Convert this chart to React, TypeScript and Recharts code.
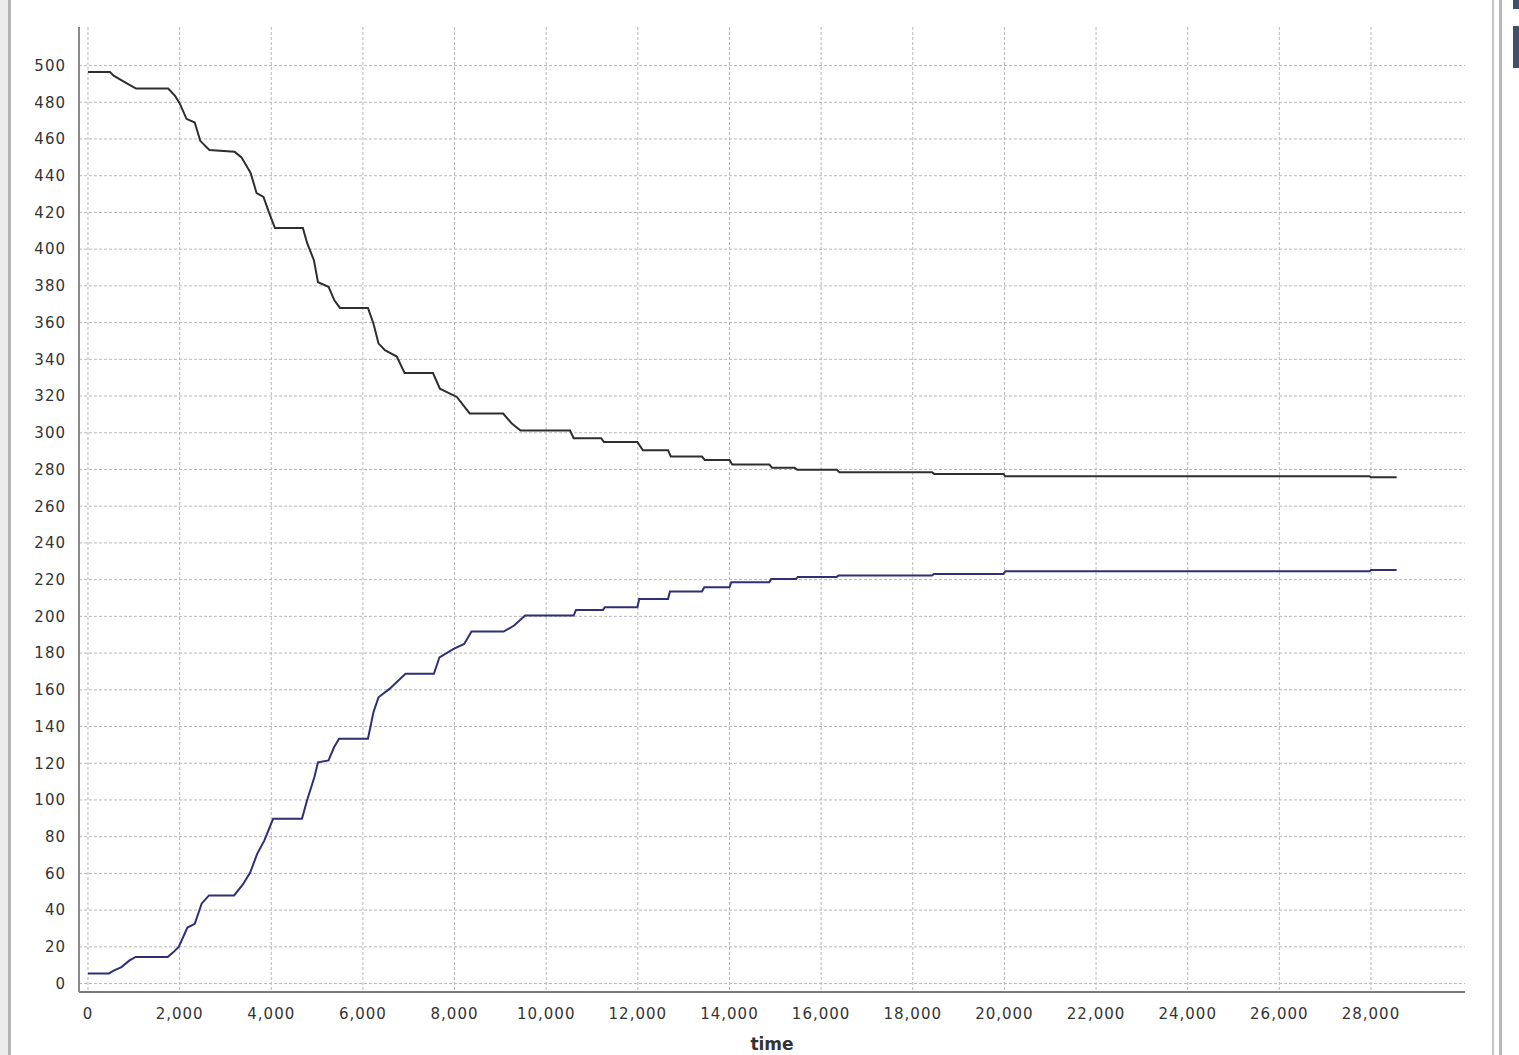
import React from 'react';
import { LineChart, Line, XAxis, YAxis, CartesianGrid } from 'recharts';

// time (x) and value (y) for the upper, falling series
const upperTimes = [0, 480, 560, 800, 1050, 1750, 1900, 2000, 2150, 2330, 2450, 2650, 3200, 3350, 3550, 3680, 3830, 3950, 4080, 4690, 4780, 4930, 5020, 5250, 5380, 5500, 6110, 6230, 6340, 6480, 6740, 6910, 7530, 7680, 8050, 8330, 9060, 9250, 9440, 10520, 10600, 11200, 11260, 11990, 12110, 12660, 12720, 13400, 13460, 14000, 14060, 14870, 14930, 15420, 15480, 16340, 16400, 18420, 18470, 19980, 20020, 27970, 28000, 28560];
const upperValues = [496.5, 496.5, 494.5, 491, 487.5, 487.5, 483.5, 479.5, 471, 469, 459, 454, 453, 450, 441.5, 430.5, 428.5, 420, 411.5, 411.5, 403.5, 394, 382, 379.5, 372, 368, 368, 359.5, 348.7, 345, 341.5, 332.5, 332.5, 324, 319.5, 310.5, 310.5, 305, 301.2, 301.2, 297, 297, 295, 295, 290.5, 290.5, 287, 287, 285.2, 285.2, 282.7, 282.7, 280.9, 280.9, 279.8, 279.8, 278.5, 278.5, 277.6, 277.6, 276.3, 276.3, 275.7, 275.7];

// time (x) and value (y) for the lower, rising series
const lowerTimes = [0, 460, 560, 730, 900, 1040, 1740, 1860, 1980, 2170, 2330, 2480, 2640, 3190, 3380, 3540, 3690, 3850, 4040, 4670, 4780, 4940, 5020, 5250, 5370, 5480, 6110, 6230, 6340, 6580, 6930, 7550, 7670, 7980, 8210, 8370, 9070, 9300, 9540, 10600, 10650, 11240, 11280, 11990, 12030, 12660, 12700, 13400, 13450, 14000, 14040, 14870, 14910, 15450, 15490, 16340, 16380, 18420, 18460, 19980, 20020, 27970, 28000, 28560];
const lowerValues = [5.5, 5.5, 7, 9, 12.5, 14.5, 14.5, 17, 20, 30.5, 32.5, 43.5, 48, 48, 54, 60.5, 70.5, 78, 89.7, 89.7, 99.7, 112.4, 120.5, 121.5, 128.7, 133.3, 133.3, 147.8, 155.9, 160.5, 168.7, 168.7, 177.7, 182.3, 185, 191.7, 191.7, 195, 200.4, 200.4, 203.5, 203.5, 205, 205, 209.5, 209.5, 213.5, 213.5, 215.8, 215.8, 218.6, 218.6, 220.4, 220.4, 221.5, 221.5, 222.2, 222.2, 223.1, 223.1, 224.5, 224.5, 225.3, 225.3];

const xTicks = [0, 2000, 4000, 6000, 8000, 10000, 12000, 14000, 16000, 18000, 20000, 22000, 24000, 26000, 28000];
const yTicks = [0, 20, 40, 60, 80, 100, 120, 140, 160, 180, 200, 220, 240, 260, 280, 300, 320, 340, 360, 380, 400, 420, 440, 460, 480, 500];

const upperData = upperTimes.map((t, i) => ({ t, v: upperValues[i] }));
const lowerData = lowerTimes.map((t, i) => ({ t, v: lowerValues[i] }));

const tickStyle = { fontFamily: 'DejaVu Sans, sans-serif', fontSize: 15, fill: '#333', letterSpacing: 1 };

export default function App() {
  return (
    <div style={{ position: 'absolute', left: 0, top: 0, width: 1519, height: 1055, background: '#fff', overflow: 'hidden' }}>
      <LineChart width={1519} height={1055} margin={{ top: 27, right: 54, bottom: 3, left: 19 }}>
        <CartesianGrid stroke="#b8b8b8" strokeDasharray="3 2" verticalValues={xTicks} horizontalValues={yTicks} />
        <XAxis
          type="number"
          dataKey="t"
          domain={[-196, 30052]}
          ticks={xTicks}
          allowDataOverflow
          height={60}
          tickLine={false}
          axisLine={{ stroke: '#7a7a7a', strokeWidth: 2 }}
          tick={tickStyle}
          tickMargin={10}
          tickFormatter={(v: number) => v.toLocaleString('en-US')}
          label={{ value: 'time', position: 'insideBottom', offset: 2, style: { fontFamily: 'DejaVu Sans, sans-serif', fontSize: 17, fontWeight: 'bold', fill: '#333' } }}
        />
        <YAxis
          type="number"
          dataKey="v"
          domain={[-4.6, 521]}
          ticks={yTicks}
          allowDataOverflow
          width={60}
          tickLine={false}
          axisLine={{ stroke: '#8a8a8a', strokeWidth: 2 }}
          tick={tickStyle}
          tickMargin={7}
        />
        <Line data={upperData} dataKey="v" type="linear" stroke="#2e2e2e" strokeWidth={2} dot={false} isAnimationActive={false} />
        <Line data={lowerData} dataKey="v" type="linear" stroke="#2f2f78" strokeWidth={2} dot={false} isAnimationActive={false} />
      </LineChart>
      <div style={{ position: 'absolute', left: 0, top: 0, width: 8, height: 1055, background: '#ececec', zIndex: 2 }} />
      <div style={{ position: 'absolute', left: 8, top: 0, width: 3, height: 1055, background: '#b4b4b4', zIndex: 2 }} />
      <div style={{ position: 'absolute', left: 1492, top: 0, width: 2, height: 1055, background: '#c4c4c4', zIndex: 2 }} />
      <div style={{ position: 'absolute', left: 1499, top: 0, width: 3, height: 1055, background: '#b8b8b8', zIndex: 2 }} />
      <div style={{ position: 'absolute', left: 1513, top: 0, width: 6, height: 9, background: '#40506a', zIndex: 2 }} />
      <div style={{ position: 'absolute', left: 1513, top: 26, width: 6, height: 42, background: '#40506a', zIndex: 2 }} />
    </div>
  );
}
